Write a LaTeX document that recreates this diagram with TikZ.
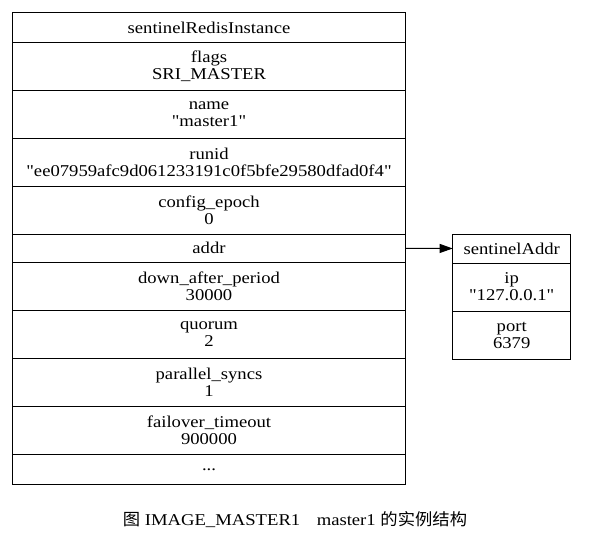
\documentclass[tikz,border=0pt]{standalone}
\usepackage{fontspec}
\setmainfont{Liberation Serif}[Ligatures=TeXOff, FakeStretch=1.13]
\newfontfamily\cjk{Noto Sans CJK SC}[FakeStretch=1.05]
\usetikzlibrary{positioning,arrows.meta}

\tikzset{
    field/.style={draw, line width=0.9pt, rectangle, align=center, inner sep=0pt, outer sep=0pt,
        minimum height=48pt, font=\fontsize{16.5}{17}\selectfont},
    onerow/.style={field, minimum height=29pt},
    link/.style={-{Triangle[length=13pt,width=9pt]}, line width=0.9pt}
}

\begin{document}
\begin{tikzpicture}[x=1pt,y=1pt]
    \useasboundingbox (0,0) rectangle (590,-538);

    % sentinelRedisInstance
    \node [onerow, minimum width=393pt, minimum height=29.6pt, anchor=north] (inst) at (209,-12.7) {sentinelRedisInstance};
    \node [field, minimum width=393pt, below=0pt of inst] (flags) {flags\\SRI\_MASTER};
    \node [field, minimum width=393pt, below=0pt of flags] (name) {name\\"master1"};
    \node [field, minimum width=393pt, below=0pt of name] (runid) {runid\\"ee07959afc9d061233191c0f5bfe29580dfad0f4"};
    \node [field, minimum width=393pt, below=0pt of runid] (epoch) {config\_epoch\\0};
    \node [onerow, minimum width=393pt, minimum height=28pt, below=0pt of epoch] (addr) {addr};
    \node [field, minimum width=393pt, below=0pt of addr] (down) {down\_after\_period\\30000};
    \node [field, minimum width=393pt, below=0pt of down] (quorum) {quorum\\2};
    \node [field, minimum width=393pt, below=0pt of quorum] (syncs) {parallel\_syncs\\1};
    \node [field, minimum width=393pt, below=0pt of syncs] (timeout) {failover\_timeout\\900000};
    \node [onerow, minimum width=393pt, minimum height=30pt, below=0pt of timeout] (more) {...};

    % sentinelAddr
    \node [onerow, minimum width=118pt, anchor=north] (saddr) at (511.7,-234) {sentinelAddr};
    \node [field, minimum width=118pt, below=0pt of saddr] (ip) {ip\\"127.0.0.1"};
    \node [field, minimum width=118pt, below=0pt of ip] (port) {port\\6379};

    \draw [link] (addr.east) -- (saddr.west);

    \node [font=\fontsize{16.5}{17}\selectfont] (caption) at (295,-520) {{\cjk 图} IMAGE\_MASTER1\quad master1 {\cjk 的实例结构}};
\end{tikzpicture}
\end{document}
